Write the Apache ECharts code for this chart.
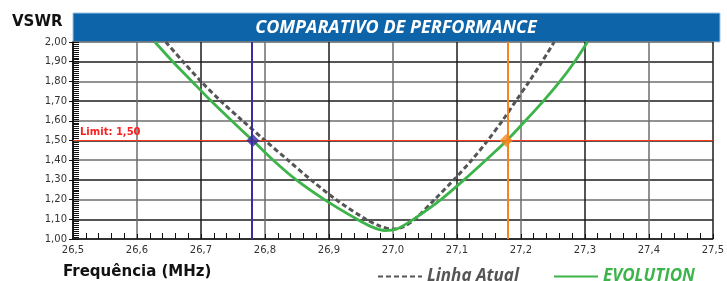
<!DOCTYPE html>
<html>
<head>
<meta charset="utf-8">
<script src="https://cdn.jsdelivr.net/npm/echarts@6/dist/echarts.min.js"></script>
<style>
  html, body { margin: 0; padding: 0; background: #fff; }
  #chart { width: 727px; height: 281px; }
</style>
</head>
<body>
<div id="chart"></div>
<script>
// curva EVOLUTION (frequencia MHz, VSWR)
var evoFreq = [26.628, 26.656, 26.686, 26.716, 26.748, 26.781, 26.813, 26.849, 26.893, 26.944, 26.966, 26.987,
  27.007, 27.032, 27.075, 27.111, 27.145, 27.178, 27.207, 27.235, 27.261, 27.284, 27.304];
var evoVswr = [2.00, 1.90, 1.80, 1.70, 1.60, 1.50, 1.40, 1.30, 1.20, 1.10, 1.063, 1.043,
  1.052, 1.10, 1.20, 1.30, 1.40, 1.50, 1.60, 1.70, 1.80, 1.90, 2.00];
// curva Linha Atual
var atualFreq = [26.645, 26.672, 26.700, 26.731, 26.765, 26.800, 26.836, 26.872, 26.911, 26.958, 26.980, 27.000,
  27.015, 27.034, 27.065, 27.095, 27.123, 27.148, 27.171, 27.192, 27.213, 27.233, 27.252];
var atualVswr = [2.00, 1.90, 1.80, 1.70, 1.60, 1.50, 1.40, 1.30, 1.20, 1.10, 1.065, 1.050,
  1.060, 1.10, 1.20, 1.30, 1.40, 1.50, 1.60, 1.70, 1.80, 1.90, 2.00];
var limitVswr = 1.50;
var crossFreq = [26.781, 27.177]; // pontos onde EVOLUTION cruza o limite
var crossColor = ['#3a2d9e', '#f7841e'];

function pairs(xs, ys) {
  var out = [];
  for (var i = 0; i < xs.length; i++) out.push([xs[i], ys[i]]);
  return out;
}
function virgula(v, d) {
  return v.toFixed(d).replace('.', ',');
}

var myChart = echarts.init(document.getElementById('chart'));

var option = {
  animation: false,
  grid: { left: 73, right: 8, top: 42, bottom: 42 },
  legend: {
    left: 372,
    top: 263,
    itemWidth: 44,
    itemHeight: 12,
    itemGap: 34,
    itemStyle: { opacity: 0 },
    textStyle: { fontFamily: 'Open Sans', fontStyle: 'italic', fontWeight: 'bold', fontSize: 17 },
    data: [
      { name: 'Linha Atual', textStyle: { color: '#555' } },
      { name: 'EVOLUTION', textStyle: { color: '#3cb44a' } },
    ],
  },
  graphic: [
    {
      type: 'rect', z: 0,
      shape: { x: 73, y: 13, width: 647, height: 29 },
      style: { fill: '#0d64a8', stroke: '#9cc4e4', lineWidth: 1 },
    },
    {
      type: 'text', z: 1, x: 396, y: 28,
      style: {
        text: 'COMPARATIVO DE PERFORMANCE', fill: '#fff', align: 'center', verticalAlign: 'middle',
        font: 'italic bold 18px "Open Sans"',
      },
    },
    {
      type: 'text', x: 12, y: 22,
      style: { text: 'VSWR', fill: '#111', verticalAlign: 'middle', font: 'bold 15px "DejaVu Sans"' },
    },
    {
      type: 'text', x: 63, y: 272,
      style: { text: 'Frequência (MHz)', fill: '#111', verticalAlign: 'middle', font: 'bold 15px "DejaVu Sans"' },
    },
  ],
  xAxis: {
    type: 'value', min: 26.5, max: 27.5, interval: 0.1,
    axisLine: { show: true, lineStyle: { color: '#111', width: 1.5 } },
    axisTick: { show: true, inside: true, length: 5, lineStyle: { color: '#111' } },
    minorTick: { show: true, splitNumber: 5, length: 6, lineStyle: { color: '#111' } },
    axisLabel: {
      color: '#333', fontSize: 10, fontFamily: 'DejaVu Sans', margin: 6,
      formatter: function (v) { return virgula(v, 1); },
    },
    splitLine: { show: true, lineStyle: { color: ['#1c1c1c', '#6e6e6e'], width: 1.5 } },
  },
  yAxis: [
    {
      type: 'value', min: 1, max: 2, interval: 0.1,
      axisLine: { show: true, lineStyle: { color: '#111', width: 1.5 } },
      axisTick: { show: true, inside: true, length: 6, lineStyle: { color: '#111' } },
      minorTick: { show: true, splitNumber: 10, length: 6, lineStyle: { color: '#111' } },
      axisLabel: {
        color: '#333', fontSize: 10, fontFamily: 'DejaVu Sans', margin: 6,
        formatter: function (v) { return virgula(v, 2); },
      },
      splitLine: { show: true, lineStyle: { color: ['#6e6e6e', '#1c1c1c'], width: 1.5 } },
    },
    {
      // eixo sobreposto só para os ticks externos
      type: 'value', min: 1, max: 2, interval: 0.1, position: 'left',
      axisLine: { show: false },
      axisTick: { show: true, inside: false, length: 4, lineStyle: { color: '#111' } },
      axisLabel: { show: false },
      splitLine: { show: false },
    },
  ],
  series: [
    {
      name: 'Linha Atual', type: 'line', smooth: 0.3, symbol: 'none', z: 3,
      lineStyle: { color: '#555', width: 3, type: [5, 3] },
      itemStyle: { color: '#555' },
      data: pairs(atualFreq, atualVswr),
    },
    {
      name: 'EVOLUTION', type: 'line', smooth: 0.3, symbol: 'none', z: 4,
      lineStyle: { color: '#3cb44a', width: 2.8 },
      itemStyle: { color: '#3cb44a' },
      data: pairs(evoFreq, evoVswr),
      markLine: {
        silent: true, symbol: 'none',
        data: [
          {
            yAxis: limitVswr,
            lineStyle: { color: '#ff3b1f', width: 1, type: 'solid' },
            label: {
              show: true, position: 'insideStartTop', distance: [7, 3],
              formatter: 'Limit: ' + virgula(limitVswr, 2),
              color: '#ff2020', fontWeight: 'bold', fontSize: 10, fontFamily: 'DejaVu Sans',
            },
          },
          { xAxis: crossFreq[0], lineStyle: { color: crossColor[0], width: 2, type: 'solid' }, label: { show: false } },
          { xAxis: crossFreq[1], lineStyle: { color: crossColor[1], width: 2, type: 'solid' }, label: { show: false } },
        ],
      },
    },
    {
      name: 'cruzamento', type: 'scatter', symbol: 'diamond', symbolSize: 13, z: 5,
      data: crossFreq.map(function (f, i) {
        return { value: [f, limitVswr], itemStyle: { color: crossColor[i] } };
      }),
    },
  ],
};

myChart.setOption(option);
</script>
</body>
</html>
